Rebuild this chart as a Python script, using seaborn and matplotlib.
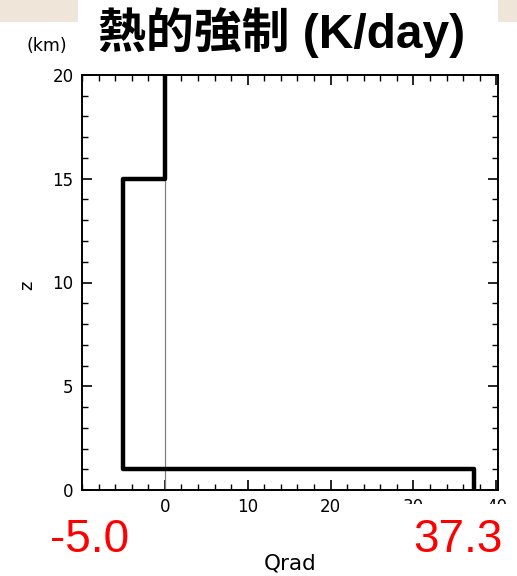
import matplotlib
matplotlib.use("Agg")
import matplotlib.pyplot as plt
import seaborn as sns
import pandas as pd
from matplotlib.ticker import MultipleLocator
from matplotlib.patches import Rectangle

# Profile of radiative heating (K/day) vs height (km)
z_km = [20, 15, 15, 1, 1, 0]
qrad = [0, 0, -5.0, -5.0, 37.3, 37.3]
xticks = [0, 10, 20, 30, 40]
yticks = [0, 5, 10, 15, 20]
qmin_label = "-5.0"
qmax_label = "37.3"
title = "熱的強制 (K/day)"

sns.set_theme(style="white")
plt.rcParams['font.family'] = ['Noto Sans CJK JP', 'DejaVu Sans']
plt.rcParams['text.color'] = 'black'
plt.rcParams['xtick.color'] = 'black'
plt.rcParams['ytick.color'] = 'black'
plt.rcParams['xtick.labelcolor'] = 'black'
plt.rcParams['ytick.labelcolor'] = 'black'

fig = plt.figure(figsize=(5.17, 5.76), dpi=100)
fig.patch.set_facecolor("white")
# beige textured-slide corners
beige = "#efe5d8"
fig.patches.append(Rectangle((0, 1 - 22/576), 78/517, 22/576, transform=fig.transFigure,
                             facecolor=beige, edgecolor="none", zorder=0))
fig.patches.append(Rectangle((498/517, 1 - 22/576), 19/517, 22/576, transform=fig.transFigure,
                             facecolor=beige, edgecolor="none", zorder=0))

ax = fig.add_axes([82/517, 1 - 490/576, (498 - 82)/517, (490 - 75)/576])
df = pd.DataFrame({"Qrad": qrad, "z": z_km})
ax.axvline(0, color="#808080", lw=0.9, zorder=1)
sns.lineplot(data=df, x="Qrad", y="z", sort=False, estimator=None,
             color="black", lw=3.2, ax=ax, zorder=3)

ax.set_xlim(-10, 40.2)
ax.set_ylim(0, 20)
ax.set_xticks(xticks)
ax.set_yticks(yticks)
ax.xaxis.set_minor_locator(MultipleLocator(2))
ax.yaxis.set_minor_locator(MultipleLocator(1))
ax.tick_params(which="both", direction="in", top=True, right=True, bottom=True, left=True,
               color="black", labelcolor="black")
ax.tick_params(which="major", length=7, width=1.2, labelsize=12, pad=6)
ax.tick_params(which="minor", length=4, width=1.0)
for lab in ax.get_xticklabels() + ax.get_yticklabels():
    lab.set_family("DejaVu Sans")
ax.set_xlabel("")
ax.set_ylabel("")
for s in ax.spines.values():
    s.set_color("black")
    s.set_linewidth(1.4)
    s.set_visible(True)

# cover parts of the tick labels like the reference
fig.patches.append(Rectangle((395/517, 0), 122/517, 1 - 504/576, transform=fig.transFigure,
                             facecolor="white", edgecolor="none", zorder=5))

fig.text(282/517, 1 - 33/576, title, ha="center", va="center", fontsize=34.5,
         fontweight="bold", color="black", family=['Liberation Sans', 'Noto Sans CJK JP'])
fig.text(47/517, 1 - 46/576, "(km)", ha="center", va="center", fontsize=12.5,
         color="black", family="DejaVu Sans")
fig.text(27/517, 1 - 285/576, "z", ha="center", va="center", fontsize=13,
         rotation=90, color="black", family="DejaVu Sans")
fig.text(290/517, 1 - 564/576, "Qrad", ha="center", va="center", fontsize=15.5,
         color="black", family="DejaVu Sans", zorder=6)
fig.text(90/517, 1 - 540/576, qmin_label, ha="center", va="center", fontsize=33,
         color="#ff0000", family="Liberation Sans", zorder=6)
fig.text(458/517, 1 - 540/576, qmax_label, ha="center", va="center", fontsize=33,
         color="#ff0000", family="Liberation Sans", zorder=6)

fig.savefig("out.png", dpi=100)
